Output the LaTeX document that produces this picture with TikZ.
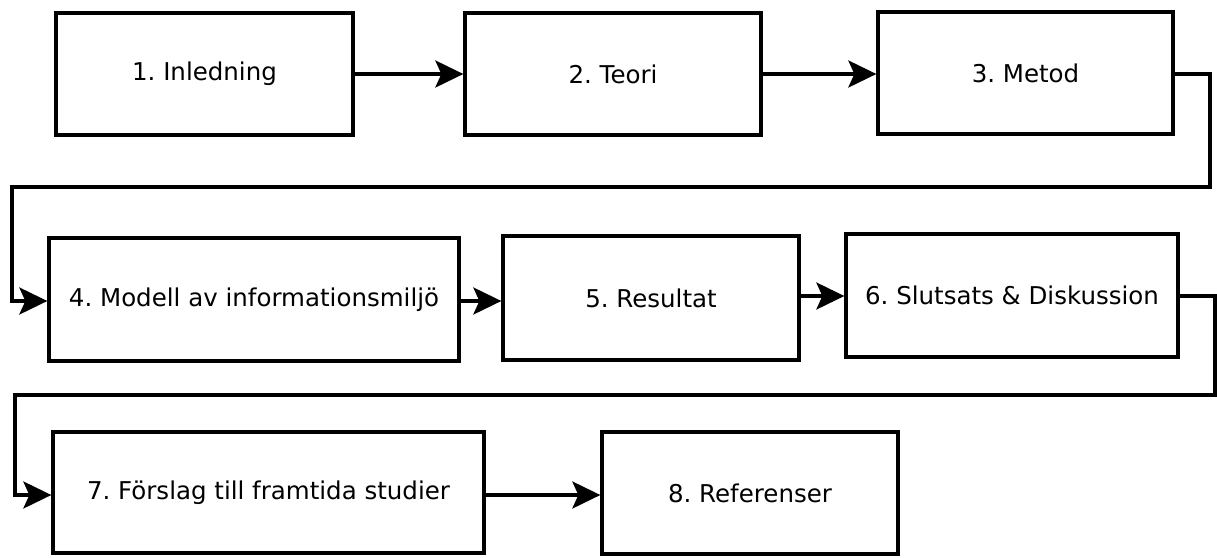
\documentclass[tikz,border=0pt]{standalone}
\usepackage{fontspec}
\setmainfont{DejaVu Sans}
\usetikzlibrary{arrows.meta}
\frenchspacing
\begin{document}
\begin{tikzpicture}[x=1pt,y=-1pt,
  chapter/.style={draw=black,line width=3.3pt,fill=white,inner sep=0pt,
    minimum height=122pt,font=\fontsize{24.5}{28}\selectfont},
  flow/.style={draw=black,line width=3.3pt,
    -{Stealth[length=28pt,width=27pt,inset=6pt]}}]
\useasboundingbox (0,0) rectangle (1217,557);
% first row
\node[chapter,minimum width=297pt] (n1) at (204.5,74) {1. Inledning};
\node[chapter,minimum width=296pt] (n2) at (613,74) {2. Teori};
\node[chapter,minimum width=295pt] (n3) at (1025.5,73) {3. Metod};
% second row
\node[chapter,minimum width=410pt,minimum height=123pt] (n4) at (254,299.5) {4. Modell av informationsmiljö};
\node[chapter,minimum width=296pt,minimum height=124pt] (n5) at (651,298) {5. Resultat};
\node[chapter,minimum width=332pt,minimum height=123pt] (n6) at (1012,295.5) {6. Slutsats \& Diskussion};
% third row
\node[chapter,minimum width=431pt,minimum height=121pt] (n7) at (268.5,492.5) {7. Förslag till framtida studier};
\node[chapter,minimum width=296pt] (n8) at (750,493) {8. Referenser};
% bend points of the two return lines
\coordinate (r1a) at (1210,74);
\coordinate (r1b) at (1210,187);
\coordinate (r1c) at (12,187);
\coordinate (r1d) at (12,301);
\coordinate (r2a) at (1215,296);
\coordinate (r2b) at (1215,395);
\coordinate (r2c) at (15,395);
\coordinate (r2d) at (15,495);
% connectors
\draw[flow] (n1.east) -- (n1.east -| n2.west);
\draw[flow] (n2.east) -- (n2.east -| n3.west);
\draw[flow,line join=miter] (n3.east |- r1a) -- (r1a) -- (r1b) -- (r1c) -- (r1d) -- (r1d -| n4.west);
\draw[flow] (n4.east |- r1d) -- (r1d -| n5.west);
\draw[flow] (n5.east |- r2a) -- (r2a -| n6.west);
\draw[flow,line join=miter] (n6.east |- r2a) -- (r2a) -- (r2b) -- (r2c) -- (r2d) -- (r2d -| n7.west);
\draw[flow] (n7.east |- r2d) -- (r2d -| n8.west);
\end{tikzpicture}
\end{document}
